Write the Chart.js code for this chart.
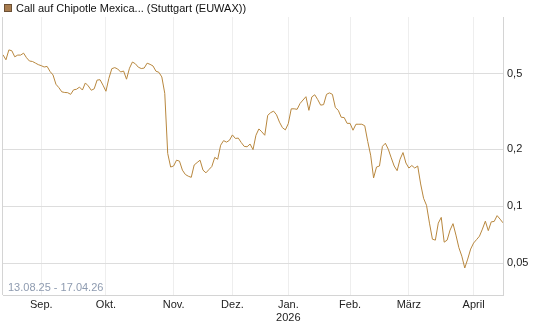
<!DOCTYPE html>
<html>
<head>
<meta charset="utf-8">
<script src="https://cdn.jsdelivr.net/npm/chart.js@4.4.1/dist/chart.umd.min.js"></script>
<style>
  html, body { margin: 0; padding: 0; background: #fff; }
</style>
</head>
<body>
<canvas id="canvas" width="545" height="327"></canvas>
<script>
// Kurs pro Handelstag, 13.08.25 - 17.04.26
let prices = [
  0.631, 0.594, 0.670, 0.663, 0.616, 0.629, 0.629, 0.644, 0.609, 0.585,
  0.582, 0.571, 0.560, 0.553, 0.544, 0.548, 0.515, 0.494, 0.441, 0.423,
  0.402, 0.399, 0.398, 0.390, 0.412, 0.415, 0.426, 0.411, 0.448, 0.432,
  0.410, 0.417, 0.464, 0.466, 0.436, 0.405, 0.474, 0.533, 0.540, 0.531,
  0.512, 0.518, 0.469, 0.536, 0.578, 0.566, 0.543, 0.534, 0.537, 0.570,
  0.562, 0.551, 0.517, 0.510, 0.482, 0.395, 0.190, 0.161, 0.163, 0.175,
  0.173, 0.155, 0.147, 0.144, 0.142, 0.165, 0.170, 0.175, 0.155, 0.150,
  0.156, 0.162, 0.181, 0.177, 0.210, 0.222, 0.218, 0.223, 0.238, 0.228,
  0.229, 0.217, 0.207, 0.206, 0.213, 0.199, 0.237, 0.256, 0.247, 0.237,
  0.302, 0.312, 0.318, 0.304, 0.278, 0.260, 0.253, 0.273, 0.327, 0.327,
  0.325, 0.349, 0.364, 0.379, 0.321, 0.378, 0.388, 0.366, 0.342, 0.344,
  0.390, 0.397, 0.390, 0.332, 0.321, 0.295, 0.294, 0.274, 0.274, 0.252,
  0.271, 0.271, 0.271, 0.266, 0.220, 0.186, 0.141, 0.161, 0.163, 0.207,
  0.215, 0.200, 0.180, 0.163, 0.154, 0.177, 0.192, 0.169, 0.159, 0.164,
  0.159, 0.163, 0.131, 0.110, 0.101, 0.0813, 0.0669, 0.0661, 0.0813, 0.0872,
  0.0645, 0.0661, 0.0747, 0.0808, 0.0703, 0.0603, 0.0544, 0.0471, 0.0525, 0.0593,
  0.0638, 0.0665, 0.0694, 0.0756, 0.0833, 0.0742, 0.0826, 0.0830, 0.0891, 0.0854,
  0.0816
];

// first trading day of each month (index into prices)
let monthTicks = [13, 35, 58, 78, 97, 118, 138, 160];
let monthLabels = ['Sep.', 'Okt.', 'Nov.', 'Dez.', ['Jan.', '2026'], 'Feb.', 'März', 'April'];
let yTicks = [0.05, 0.1, 0.2, 0.5];

let title = 'Call auf Chipotle Mexica... (Stuttgart (EUWAX))';
let rangeText = '13.08.25 - 17.04.26';

let lineColor = '#b8873e';
let fontFamily = 'Arial, "Liberation Sans", sans-serif';

let decor = {
  id: 'decor',
  afterDraw: function(chart) {
    let c = chart.ctx;
    let a = chart.chartArea;
    c.save();
    // left border
    c.strokeStyle = '#d4d4d4';
    c.lineWidth = 1;
    c.beginPath();
    c.moveTo(Math.round(a.left) - 0.5, a.top);
    c.lineTo(Math.round(a.left) - 0.5, a.bottom);
    c.stroke();
    // legend
    c.fillStyle = '#a87c4f';
    c.fillRect(4, 4, 8, 8);
    c.strokeStyle = '#6b5035';
    c.strokeRect(4.5, 4.5, 7, 7);
    c.fillStyle = '#111';
    c.font = '11px ' + fontFamily;
    c.textBaseline = 'middle';
    c.fillText(title, 16, 8.5);
    // date range
    c.fillStyle = '#8e9bb0';
    c.fillText(rangeText, 8, a.bottom - 7);
    c.restore();
  }
};

let ctx = document.getElementById('canvas').getContext('2d');
let chart = new Chart(ctx, {
  type: 'line',
  data: {
    datasets: [{
      data: prices.map(function(v, i) { return { x: i, y: v }; }),
      borderColor: lineColor,
      borderWidth: 1,
      pointRadius: 0,
      tension: 0,
      fill: false
    }]
  },
  options: {
    responsive: false,
    animation: false,
    layout: { padding: { left: 3, top: 17, right: 0, bottom: 0 } },
    plugins: {
      legend: { display: false },
      tooltip: { enabled: false }
    },
    scales: {
      x: {
        type: 'linear',
        min: 0,
        max: 170,
        afterBuildTicks: function(s) { s.ticks = monthTicks.map(function(v) { return { value: v }; }); },
        afterFit: function(s) { s.height = 32; },
        ticks: {
          autoSkip: false,
          maxRotation: 0,
          padding: 3,
          color: '#222',
          font: { size: 11, family: fontFamily },
          callback: function(v, i) { return monthLabels[i]; }
        },
        grid: { color: '#eeeeee', drawTicks: false },
        border: { display: true, color: '#d4d4d4' }
      },
      y: {
        type: 'logarithmic',
        position: 'right',
        min: 0.0339,
        max: 1.0,
        afterBuildTicks: function(s) { s.ticks = yTicks.map(function(v) { return { value: v }; }); },
        afterFit: function(s) { s.width = 42; },
        ticks: {
          padding: 4,
          color: '#222',
          font: { size: 11, family: fontFamily },
          callback: function(v) { return String(v).replace('.', ','); }
        },
        grid: { color: '#dddddd', drawTicks: false },
        border: { display: true, color: '#d4d4d4' }
      }
    }
  },
  plugins: [decor]
});
</script>
</body>
</html>
